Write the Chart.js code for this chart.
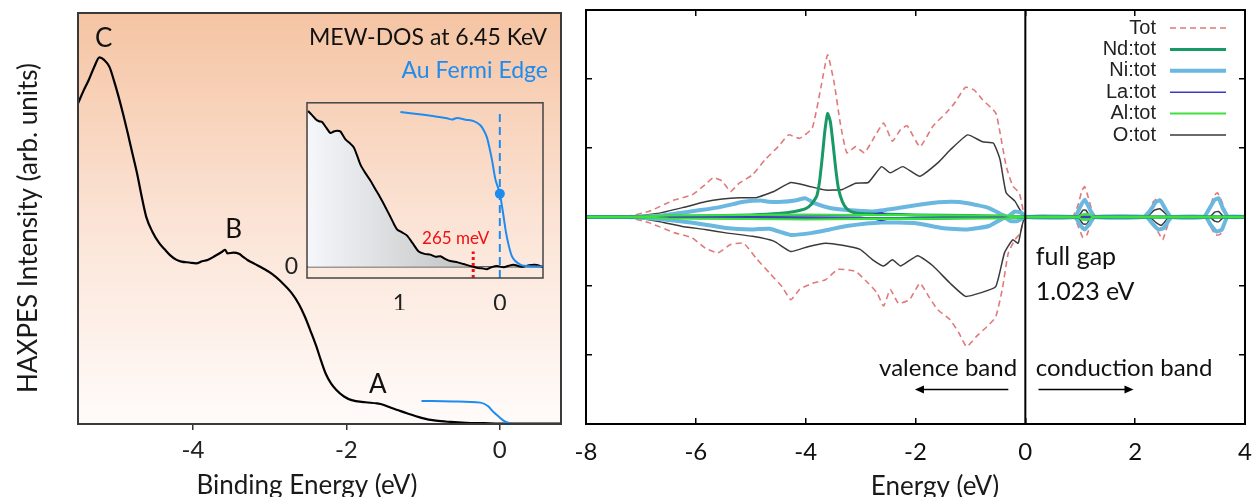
<!DOCTYPE html>
<html>
<head>
<meta charset="utf-8">
<script src="https://cdn.jsdelivr.net/npm/chart.js@4.4.1/dist/chart.umd.min.js"></script>
<style>
  html, body { margin: 0; padding: 0; background: #fff; overflow: hidden; }
  body { width: 1255px; height: 497px; position: relative; }
  canvas { position: absolute; }
  #haxpes { left: 0; top: 0; }
  #inset { left: 250px; top: 80px; }
  #dos { left: 565px; top: 0; }
</style>
</head>
<body>
<canvas id="haxpes" width="575" height="510"></canvas>
<canvas id="dos" width="690" height="510"></canvas>
<canvas id="inset" width="310" height="230"></canvas>
<script>
// ---- HAXPES valence band (binding energy eV, intensity arb. units) ----
const haxpesSpectrum = [
  [-5.50, 78.0], [-5.43, 81.0], [-5.36, 83.7], [-5.29, 86.8], [-5.22, 89.2], [-5.16, 88.6],
  [-5.09, 86.9], [-5.03, 83.5], [-4.97, 79.6], [-4.91, 75.3], [-4.85, 70.7], [-4.79, 65.8],
  [-4.73, 61.0], [-4.67, 55.4], [-4.61, 50.4], [-4.53, 46.8], [-4.44, 44.0], [-4.37, 42.5],
  [-4.30, 41.1], [-4.22, 40.0], [-4.15, 39.5], [-4.05, 39.3], [-3.96, 39.1], [-3.88, 39.6],
  [-3.81, 39.9], [-3.72, 40.8], [-3.62, 41.9], [-3.58, 42.4], [-3.55, 41.5], [-3.47, 41.7],
  [-3.40, 41.4], [-3.34, 40.6], [-3.29, 39.9], [-3.19, 38.9], [-3.09, 37.9], [-2.97, 36.5],
  [-2.85, 34.6], [-2.71, 31.8], [-2.62, 29.2], [-2.54, 26.1], [-2.46, 22.3], [-2.39, 18.8],
  [-2.33, 15.4], [-2.27, 12.3], [-2.20, 9.9], [-2.13, 8.3], [-2.03, 6.7], [-1.93, 5.8],
  [-1.75, 5.3], [-1.60, 5.0], [-1.52, 4.7], [-1.45, 4.2], [-1.33, 3.4], [-1.21, 2.6],
  [-1.02, 1.5], [-0.83, 0.8], [-0.64, 0.5], [-0.44, 0.3], [-0.20, 0.2], [0, 0.1], [0.4, 0.1], [0.8, 0.1]
];
const auFermiEdge = [
  [-1.02, 5.6], [-0.60, 5.5], [-0.25, 5.2], [-0.15, 4.3], [-0.08, 2.9], [0, 1.6],
  [0.06, 0.7], [0.11, 0.3], [0.16, 0.1]
];
const haxpesTicks = [-4, -2, 0];
const peakNames = ['C', 'B', 'A'];

// inset: near-edge region, binding energy axis reversed
const insetSpectrum = [
  [1.91, 164.3], [1.87, 160], [1.836, 156], [1.80, 153.5], [1.77, 152.7], [1.73, 147],
  [1.687, 141], [1.654, 142.7], [1.62, 143.5], [1.587, 142.7], [1.537, 134.3], [1.50, 131],
  [1.455, 126], [1.42, 117], [1.388, 107.7], [1.34, 99], [1.289, 91], [1.24, 82],
  [1.189, 72.7], [1.14, 63], [1.09, 52.7], [1.05, 44], [1.023, 39.3], [0.97, 36],
  [0.923, 32.7], [0.87, 25], [0.808, 16], [0.75, 13.5], [0.692, 12.7], [0.64, 10.5],
  [0.592, 11], [0.54, 8], [0.493, 6], [0.42, 4.5], [0.36, 2.7], [0.29, 0.5],
  [0.227, -1.3], [0.18, -1.8], [0.127, -2.7], [0.08, -0.5], [0.028, 0.7], [-0.038, -0.7],
  [-0.09, 1], [-0.137, 2], [-0.19, 0.5], [-0.237, 0], [-0.29, 1.5], [-0.37, 1.7], [-0.436, -0.7]
];
const insetAuEdge = [
  [0.99, 163.3], [0.87, 161.8], [0.758, 160.3], [0.64, 158.5], [0.525, 156.7], [0.476, 155.3],
  [0.426, 157], [0.34, 155.2], [0.26, 153.7], [0.194, 149.3], [0.16, 144], [0.127, 136],
  [0.10, 124], [0.078, 112.7], [0.045, 92.7], [0, 77], [-0.038, 52.7], [-0.06, 37],
  [-0.088, 22.7], [-0.12, 11], [-0.154, 6], [-0.20, 2.5], [-0.237, 1], [-0.436, 0]
];
const insetTicks = [1, 0];
const gapOnset = 0.265; // eV, leading edge vs Au Fermi level

// ---- DFT density of states (energy eV, states, spin up > 0, spin down < 0) ----
const dosTicks = [-8, -6, -4, -2, 0, 2, 4];
const dosSeries = ['Tot', 'Nd:tot', 'Ni:tot', 'La:tot', 'Al:tot', 'O:tot'];
const totUp = [
  [-8, 0], [-7.25, 0.01], [-6.86, 0.08], [-6.38, 0.25], [-6.07, 0.32], [-5.83, 0.47], [-5.68, 0.57],
  [-5.52, 0.52], [-5.37, 0.37], [-5.21, 0.49], [-4.97, 0.61], [-4.74, 0.83], [-4.5, 1.02], [-4.31, 1.19],
  [-4.11, 1.14], [-3.88, 1.29], [-3.72, 1.89], [-3.6, 2.35], [-3.48, 1.94], [-3.37, 1.36], [-3.25, 0.93],
  [-3.09, 1.02], [-2.93, 0.93], [-2.74, 1.17], [-2.58, 1.36], [-2.42, 1.10], [-2.27, 1.27], [-2.15, 1.32],
  [-1.92, 1.02], [-1.68, 1.32], [-1.44, 1.51], [-1.29, 1.65], [-1.09, 1.88], [-0.93, 1.84], [-0.78, 1.70],
  [-0.54, 1.51], [-0.46, 1.22], [-0.35, 0.74], [-0.23, 0.45], [-0.11, 0.35], [-0.03, 0.06], [0, 0],
  [0.85, 0], [0.95, 0.15], [1.03, 0.38], [1.08, 0.44], [1.14, 0.3], [1.22, 0.08], [1.3, 0],
  [2.15, 0], [2.25, 0.08], [2.33, 0.22], [2.42, 0.28], [2.5, 0.2], [2.58, 0.06], [2.65, 0],
  [3.25, 0], [3.35, 0.12], [3.43, 0.3], [3.5, 0.35], [3.58, 0.22], [3.66, 0.05], [3.72, 0], [4, 0]
];
const totDown = [
  [-8, 0], [-7.25, -0.01], [-6.86, -0.08], [-6.38, -0.23], [-6.07, -0.30], [-5.83, -0.45], [-5.6, -0.52],
  [-5.37, -0.40], [-5.13, -0.38], [-4.9, -0.6], [-4.66, -0.81], [-4.43, -1.01], [-4.27, -1.2], [-4.11, -1.05],
  [-3.88, -0.96], [-3.64, -0.91], [-3.41, -0.76], [-3.09, -0.79], [-2.86, -0.96], [-2.7, -1.1], [-2.58, -1.29],
  [-2.46, -1.05], [-2.31, -1.25], [-2.11, -1.2], [-1.92, -0.96], [-1.76, -1.15], [-1.6, -1.34], [-1.37, -1.49],
  [-1.21, -1.68], [-1.07, -1.88], [-0.89, -1.73], [-0.7, -1.59], [-0.54, -1.45], [-0.42, -1.05], [-0.31, -0.52],
  [-0.19, -0.33], [-0.09, -0.23], [0, 0],
  [0.88, 0], [0.97, -0.15], [1.05, -0.3], [1.12, -0.26], [1.2, -0.08], [1.28, 0],
  [2.2, 0], [2.3, -0.1], [2.42, -0.22], [2.5, -0.33], [2.58, -0.15], [2.66, 0],
  [3.28, 0], [3.36, -0.12], [3.46, -0.26], [3.55, -0.25], [3.64, -0.08], [3.7, 0], [4, 0]
];
const ndUp = [
  [-8, 0], [-7.2, 0], [-6.5, 0.01], [-5.5, 0.02], [-5.0, 0.03], [-4.5, 0.05], [-4.2, 0.08], [-4.0, 0.12],
  [-3.9, 0.18], [-3.8, 0.3], [-3.75, 0.5], [-3.7, 0.85], [-3.65, 1.25], [-3.6, 1.5], [-3.55, 1.38],
  [-3.5, 1.05], [-3.45, 0.68], [-3.4, 0.4], [-3.33, 0.22], [-3.25, 0.12], [-3.15, 0.07], [-3.0, 0.05],
  [-2.5, 0.04], [-2.0, 0.03], [-1.0, 0.02], [0, 0], [4, 0]
];
const ndDown = [[-8, 0], [-7, 0], [-6, -0.01], [-4, -0.02], [-2, -0.02], [0, 0], [4, 0]];
const niUp = [
  [-8, 0], [-7.25, 0], [-6.54, 0.03], [-5.91, 0.1], [-5.52, 0.15], [-5.13, 0.22], [-4.82, 0.24],
  [-4.66, 0.22], [-4.43, 0.22], [-4.19, 0.24], [-4.0, 0.27], [-3.84, 0.2], [-3.56, 0.13], [-3.25, 0.1],
  [-2.78, 0.08], [-2.31, 0.13], [-1.84, 0.19], [-1.37, 0.22], [-1.05, 0.2], [-0.66, 0.13], [-0.42, 0.03],
  [-0.31, 0.01], [-0.19, 0.08], [-0.07, 0.06], [0, 0],
  [0.9, 0], [1.0, 0.15], [1.08, 0.25], [1.17, 0.12], [1.26, 0],
  [2.15, 0], [2.28, 0.1], [2.38, 0.22], [2.46, 0.24], [2.56, 0.1], [2.66, 0],
  [3.25, 0], [3.35, 0.12], [3.45, 0.25], [3.52, 0.27], [3.6, 0.12], [3.7, 0], [4, 0]
];
const niDown = [
  [-8, 0], [-7.25, 0], [-6.54, -0.04], [-5.91, -0.1], [-5.45, -0.16], [-4.97, -0.18], [-4.66, -0.17],
  [-4.27, -0.26], [-3.88, -0.23], [-3.56, -0.18], [-3.25, -0.13], [-2.62, -0.08], [-1.99, -0.09],
  [-1.52, -0.16], [-1.05, -0.18], [-0.66, -0.13], [-0.38, -0.01], [-0.27, -0.06], [-0.15, -0.06], [0, 0],
  [0.9, 0], [1.0, -0.12], [1.08, -0.18], [1.17, -0.1], [1.26, 0],
  [2.2, 0], [2.32, -0.1], [2.42, -0.18], [2.52, -0.16], [2.62, -0.04], [2.68, 0],
  [3.28, 0], [3.38, -0.12], [3.48, -0.21], [3.58, -0.18], [3.68, 0], [4, 0]
];
const laUp = [[-8, 0], [-7, 0], [-5, 0.01], [-3, 0.02], [-2.75, 0.04], [-2.62, 0.06], [-2.5, 0.03], [-1.5, 0.02], [-0.5, 0.01], [0, 0], [4, 0]];
const laDown = [[-8, 0], [-7, 0], [-5, -0.01], [-3, -0.02], [-2.75, -0.03], [-2.62, -0.05], [-2.5, -0.03], [-1.5, -0.02], [-0.5, -0.01], [0, 0], [4, 0]];
const alUp = [[-8, 0], [-7.2, 0], [-6.5, 0.02], [-5, 0.03], [-4, 0.035], [-3, 0.03], [-2, 0.03], [-1, 0.02], [-0.4, 0.02], [0, 0], [0.95, 0], [1.05, 0.04], [1.15, 0.04], [1.25, 0], [4, 0]];
const alDown = [[-8, 0], [-7.2, 0], [-6.5, -0.02], [-5, -0.03], [-4, -0.035], [-3, -0.03], [-2, -0.03], [-1, -0.02], [-0.4, -0.02], [0, 0], [0.95, 0], [1.05, -0.04], [1.15, -0.04], [1.25, 0], [4, 0]];
const oUp = [
  [-8, 0], [-7.25, 0], [-6.7, 0.05], [-6.22, 0.14], [-5.83, 0.22], [-5.52, 0.26], [-5.21, 0.28], [-4.9, 0.28],
  [-4.58, 0.37], [-4.27, 0.5], [-3.96, 0.45], [-3.64, 0.39], [-3.33, 0.4], [-3.09, 0.49], [-2.86, 0.5],
  [-2.62, 0.73], [-2.46, 0.64], [-2.23, 0.73], [-1.92, 0.59], [-1.6, 0.78], [-1.37, 0.97], [-1.05, 1.19],
  [-0.78, 1.09], [-0.58, 1.07], [-0.46, 0.83], [-0.35, 0.35], [-0.19, 0.23], [0, 0],
  [0.95, 0], [1.05, 0.1], [1.1, 0.1], [1.2, 0], [2.2, 0], [2.35, 0.1], [2.45, 0.12], [2.55, 0.05], [2.62, 0],
  [3.35, 0], [3.45, 0.07], [3.52, 0.08], [3.62, 0], [4, 0]
];
const oDown = [
  [-8, 0], [-7.25, 0], [-6.7, -0.06], [-6.22, -0.14], [-5.83, -0.18], [-5.45, -0.23], [-4.97, -0.28],
  [-4.58, -0.35], [-4.27, -0.5], [-3.96, -0.43], [-3.64, -0.38], [-3.33, -0.41], [-3.01, -0.47], [-2.78, -0.62],
  [-2.58, -0.71], [-2.42, -0.62], [-2.27, -0.71], [-1.96, -0.56], [-1.68, -0.71], [-1.37, -0.96], [-1.09, -1.15],
  [-0.82, -1.1], [-0.54, -1.01], [-0.38, -0.52], [-0.23, -0.33], [-0.13, -0.38], [0, 0],
  [0.95, 0], [1.05, -0.1], [1.12, -0.1], [1.2, 0], [2.25, 0], [2.38, -0.08], [2.48, -0.12], [2.58, -0.03], [2.64, 0],
  [3.35, 0], [3.45, -0.06], [3.52, -0.07], [3.62, 0], [4, 0]
];
const fullGap = 1.023; // eV

const BLUE = '#1d8cf0';
const TEXT_FONT = "Lato, 'Open Sans', sans-serif";

Chart.defaults.font.family = TEXT_FONT;
Chart.defaults.color = '#1a1a1a';
Chart.defaults.animation = false;
Chart.defaults.plugins.legend.display = false;
Chart.defaults.plugins.tooltip.enabled = false;
Chart.defaults.elements.point.radius = 0;

const pts = arr => arr.map(([x, y]) => ({ x, y }));
const fixedTicks = list => scale => { scale.ticks = list.map(v => ({ value: v })); };
// pin an x axis height and drop the label overhang padding so the plot spans the full box
const pinHeight = h => s => { s.height = h; s.paddingLeft = 0; s.paddingRight = 0; };

function text(ctx, str, x, y, font, color, align = 'left', baseline = 'alphabetic') {
  ctx.font = font;
  ctx.fillStyle = color;
  ctx.textAlign = align;
  ctx.textBaseline = baseline;
  ctx.fillText(str, x, y);
}

// stroke a box round the plot area
const frame = {
  id: 'frame',
  afterDraw(chart, args, opts) {
    const { ctx, chartArea: a } = chart;
    ctx.save();
    ctx.strokeStyle = opts.color || '#000';
    ctx.lineWidth = opts.width || 2;
    ctx.strokeRect(a.left, a.top, a.right - a.left, a.bottom - a.top);
    ctx.restore();
  }
};

// peach fade behind the HAXPES spectrum
const peachFill = {
  id: 'peachFill',
  beforeDraw(chart) {
    const { ctx, chartArea: a } = chart;
    const g = ctx.createLinearGradient(0, a.top, 0, a.bottom);
    g.addColorStop(0, '#f5c4a3');
    g.addColorStop(0.5, '#fbe3d5');
    g.addColorStop(1, '#fffbfa');
    ctx.save();
    ctx.fillStyle = g;
    ctx.fillRect(a.left, a.top, a.right - a.left, a.bottom - a.top);
    ctx.restore();
  }
};

const haxpesText = {
  id: 'haxpesText',
  afterDatasetsDraw(chart) {
    const { ctx, scales: { x, y } } = chart;
    ctx.save();
    const big = `26px ${TEXT_FONT}`;
    const spots = [[-5.165, 91.8], [-3.47, 45.2], [-1.59, 7.5]];
    peakNames.forEach((n, i) => {
      text(ctx, n, x.getPixelForValue(spots[i][0]), y.getPixelForValue(spots[i][1]), big, '#111', 'center');
    });
    text(ctx, 'MEW-DOS at 6.45 KeV', 547, 45, `23px ${TEXT_FONT}`, '#111', 'right');
    text(ctx, 'Au Fermi Edge', 548, 78, `23px ${TEXT_FONT}`, BLUE, 'right');
    text(ctx, 'Binding Energy (eV)', 307, 494, big, '#1a1a1a', 'center');
    ctx.translate(37, 228);
    ctx.rotate(-Math.PI / 2);
    text(ctx, 'HAXPES Intensity (arb. units)', 0, 0, big, '#1a1a1a', 'center');
    ctx.restore();
  }
};

new Chart(document.getElementById('haxpes'), {
  type: 'line',
  data: {
    datasets: [
      { data: pts(auFermiEdge), borderColor: BLUE, borderWidth: 2, cubicInterpolationMode: 'monotone' },
      { data: pts(haxpesSpectrum), borderColor: '#000', borderWidth: 2.2, cubicInterpolationMode: 'monotone' }
    ]
  },
  options: {
    responsive: false,
    layout: { padding: { top: 13, right: 14 } },
    scales: {
      x: {
        type: 'linear', min: -5.5, max: 0.8,
        afterBuildTicks: fixedTicks(haxpesTicks),
        afterFit: pinHeight(86),
        grid: { drawOnChartArea: false, tickLength: 6, color: '#333', lineWidth: 1.5 },
        border: { display: false },
        ticks: { padding: 6, font: { size: 24 }, color: '#222' }
      },
      y: {
        min: 0, max: 100,
        ticks: { display: false },
        grid: { display: false },
        border: { display: false },
        afterFit: s => { s.width = 78; }
      }
    },
    plugins: { frame: { color: '#3a3a3a', width: 2 } }
  },
  plugins: [peachFill, frame, haxpesText]
});

// ---- inset ----
const insetText = {
  id: 'insetText',
  afterDatasetsDraw(chart) {
    const { ctx, scales: { x, y } } = chart;
    ctx.save();
    text(ctx, `${Math.round(gapOnset * 1000)} meV`, x.getPixelForValue(0.44), y.getPixelForValue(24), `17px ${TEXT_FONT}`, '#f01010', 'center');
    ctx.restore();
  }
};

const auAtZero = insetAuEdge.find(p => p[0] === 0);

new Chart(document.getElementById('inset'), {
  type: 'line',
  data: {
    datasets: [
      { type: 'scatter', data: [{ x: auAtZero[0], y: auAtZero[1] }], pointRadius: 5, pointBackgroundColor: BLUE, pointBorderWidth: 0 },
      { data: [{ x: gapOnset, y: -12 }, { x: gapOnset, y: 16 }], borderColor: '#f01010', borderWidth: 3, borderDash: [3, 3] },
      { data: [{ x: 0, y: -12 }, { x: 0, y: 165 }], borderColor: BLUE, borderWidth: 2, borderDash: [8, 5] },
      { data: pts(insetAuEdge), borderColor: BLUE, borderWidth: 2, cubicInterpolationMode: 'monotone' },
      {
        data: pts(insetSpectrum), borderColor: '#000', borderWidth: 2, tension: 0.2, fill: 'origin',
        backgroundColor: ctx => {
          const a = ctx.chart.chartArea;
          if (!a) return '#ddd';
          const g = ctx.chart.ctx.createLinearGradient(a.left, 0, a.left + 180, 0);
          g.addColorStop(0, '#f5f7fb');
          g.addColorStop(1, '#bdbdbd');
          return g;
        }
      }
    ]
  },
  options: {
    responsive: false,
    layout: { padding: { top: 13, right: 17 } },
    scales: {
      x: {
        type: 'linear', min: -0.43, max: 1.92, reverse: true,
        afterBuildTicks: fixedTicks(insetTicks),
        afterFit: pinHeight(32),
        grid: { display: false },
        border: { display: false },
        ticks: { padding: 4, font: { size: 23 }, color: '#222' }
      },
      y: {
        min: -12, max: 173,
        afterBuildTicks: fixedTicks([0]),
        afterFit: s => { s.width = 57; },
        grid: { drawTicks: false, color: '#444', lineWidth: 1.5 },
        border: { display: false },
        ticks: { padding: 9, font: { size: 23 }, color: '#222' }
      }
    },
    plugins: { frame: { color: '#444', width: 1.5 } }
  },
  plugins: [frame, insetText]
});

// ---- density of states ----
const seriesStyle = {
  'Tot': { color: '#e07a7a', width: 1.6, dash: [6, 4] },
  'Nd:tot': { color: '#189a66', width: 3 },
  'Ni:tot': { color: '#6ab7e0', width: 4 },
  'La:tot': { color: '#3a3ac4', width: 1.6 },
  'Al:tot': { color: '#3ee03e', width: 2 },
  'O:tot': { color: '#3a3a3a', width: 1.5 }
};
const seriesData = {
  'Tot': [totUp, totDown], 'Nd:tot': [ndUp, ndDown], 'Ni:tot': [niUp, niDown],
  'La:tot': [laUp, laDown], 'Al:tot': [alUp, alDown], 'O:tot': [oUp, oDown]
};
// first dataset ends up on top
const drawOrder = ['Al:tot', 'La:tot', 'Nd:tot', 'Ni:tot', 'O:tot', 'Tot'];
const dosDatasets = [{ data: [{ x: 0, y: -3 }, { x: 0, y: 3 }], borderColor: '#000', borderWidth: 2 }];
drawOrder.forEach(name => {
  const st = seriesStyle[name];
  seriesData[name].forEach(branch => {
    dosDatasets.push({
      label: name, data: pts(branch), borderColor: st.color, borderWidth: st.width,
      borderDash: st.dash || [], tension: 0.15
    });
  });
});

function arrow(ctx, x1, x2, y) {
  const dir = Math.sign(x2 - x1);
  ctx.beginPath();
  ctx.moveTo(x1, y);
  ctx.lineTo(x2 - dir * 6, y);
  ctx.stroke();
  ctx.beginPath();
  ctx.moveTo(x2, y);
  ctx.lineTo(x2 - dir * 9, y - 4);
  ctx.lineTo(x2 - dir * 9, y + 4);
  ctx.closePath();
  ctx.fill();
}

const dosDecor = {
  id: 'dosDecor',
  afterDatasetsDraw(chart) {
    const { ctx, scales: { x, y } } = chart;
    const a = chart.chartArea;
    ctx.save();
    // legend: name then line sample
    dosSeries.forEach((name, i) => {
      const st = seriesStyle[name];
      const ly = 28 + i * 21.4;
      text(ctx, name, a.right - 89, ly, "20px 'Liberation Sans Narrow', 'Liberation Sans', Arial, sans-serif", '#222', 'right', 'middle');
      ctx.strokeStyle = st.color;
      ctx.lineWidth = st.width;
      ctx.setLineDash(st.dash || []);
      ctx.beginPath();
      ctx.moveTo(a.right - 75, ly);
      ctx.lineTo(a.right - 19, ly);
      ctx.stroke();
    });
    ctx.setLineDash([]);
    const f = `25px ${TEXT_FONT}`;
    const g = `24px ${TEXT_FONT}`;
    text(ctx, 'full gap', x.getPixelForValue(0.19), y.getPixelForValue(-0.69), f, '#111');
    text(ctx, `${fullGap} eV`, x.getPixelForValue(0.19), y.getPixelForValue(-1.2), f, '#111');
    text(ctx, 'valence band', x.getPixelForValue(-0.15), y.getPixelForValue(-2.31), g, '#111', 'right');
    text(ctx, 'conduction band', x.getPixelForValue(0.19), y.getPixelForValue(-2.31), g, '#111');
    ctx.strokeStyle = '#000';
    ctx.fillStyle = '#000';
    ctx.lineWidth = 1.3;
    const ay = y.getPixelForValue(-2.5);
    arrow(ctx, x.getPixelForValue(-0.31), x.getPixelForValue(-2.01), ay);
    arrow(ctx, x.getPixelForValue(0.24), x.getPixelForValue(1.97), ay);
    text(ctx, 'Energy (eV)', 370, 495, `26px ${TEXT_FONT}`, '#1a1a1a', 'center');
    ctx.restore();
  }
};

const inward = { drawOnChartArea: false, tickLength: -6, color: '#000', lineWidth: 1.5 };

new Chart(document.getElementById('dos'), {
  type: 'line',
  data: { datasets: dosDatasets },
  options: {
    responsive: false,
    layout: { padding: 0 },
    scales: {
      x: {
        type: 'linear', position: 'bottom', min: -8, max: 4,
        afterBuildTicks: fixedTicks(dosTicks),
        afterFit: pinHeight(86),
        grid: inward, border: { display: false },
        ticks: { padding: 20, font: { size: 24 }, color: '#111' }
      },
      x2: {
        type: 'linear', position: 'top', min: -8, max: 4,
        afterBuildTicks: fixedTicks(dosTicks),
        afterFit: pinHeight(10),
        grid: inward, border: { display: false },
        ticks: { display: false }
      },
      y: {
        min: -3, max: 3,
        ticks: { stepSize: 1, display: false },
        afterFit: s => { s.width = 21; },
        grid: inward, border: { display: false }
      },
      y2: {
        position: 'right', min: -3, max: 3,
        ticks: { stepSize: 1, display: false },
        afterFit: s => { s.width = 10; },
        grid: inward, border: { display: false }
      }
    },
    plugins: { frame: { color: '#000', width: 2 } }
  },
  plugins: [frame, dosDecor]
});
</script>
</body>
</html>
